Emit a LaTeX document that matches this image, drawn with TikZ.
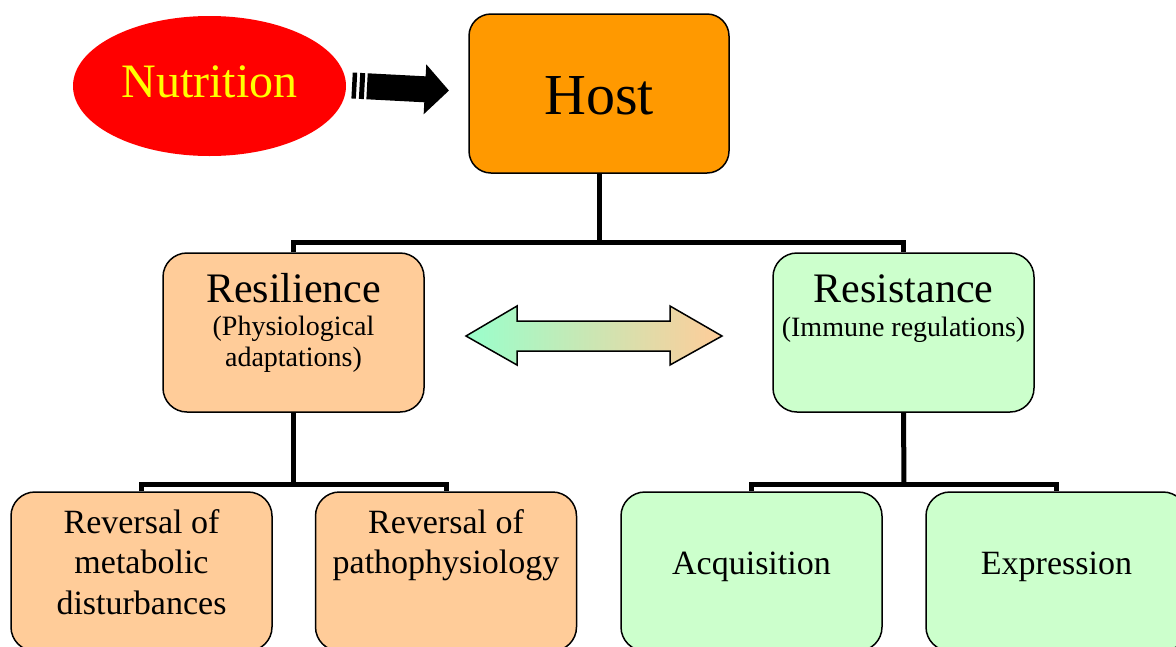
\documentclass[tikz,border=0pt]{standalone}
\usepackage{fontspec}
\setmainfont{Liberation Serif}
\usetikzlibrary{shapes.geometric}
\definecolor{hostorange}{HTML}{FF9900}
\definecolor{peach}{HTML}{FFCC99}
\definecolor{mint}{HTML}{CCFFCC}
\definecolor{aqua}{HTML}{99FFCC}
\definecolor{nutred}{HTML}{FF0000}
\definecolor{nutyellow}{HTML}{FFFF00}
\tikzset{
  box/.style={draw=black, line width=1.5pt, rounded corners=24pt, minimum width=261pt, minimum height=159pt, inner sep=0pt},
  conn/.style={draw=black, line width=5pt},
  lbl/.style={anchor=base, inner sep=0pt, text=black},
}
\begin{document}
\begin{tikzpicture}[x=1pt,y=-1pt]
\useasboundingbox (0,0) rectangle (1176,646);
\clip (0,0) rectangle (1176,646);
\fill[white] (0,0) rectangle (1176,646);

% Nutrition ellipse
\node[ellipse, fill=nutred, minimum width=273pt, minimum height=140pt, inner sep=0pt] (nut) at (209.5,86) {};
\node[lbl, text=nutyellow, font=\fontsize{48}{50}\selectfont] (nuttxt) at (209.5,97) {Nutrition};

% Black block arrow
\begin{scope}[rotate around={-3:(400,88)}]
  \fill[black] (352,75) rectangle (356.5,101);
  \fill[black] (359.5,75) rectangle (364.5,101);
  \fill[black] (367,75) -- (425,75) -- (425,63) -- (449,88) -- (425,113) -- (425,101) -- (367,101) -- cycle;
\end{scope}

% Boxes
\node[box, fill=hostorange, minimum width=260pt, minimum height=159pt, rounded corners=22pt] (host) at (599,93.5) {};
\node[lbl, font=\fontsize{58}{60}\selectfont] (hosttxt) at (599,114) {Host};

\node[box, fill=peach] (resil) at (293.5,332.5) {};
\node[lbl, font=\fontsize{42}{44}\selectfont] (resiltxt) at (293.5,302) {Resilience};
\node[lbl, font=\fontsize{28}{30}\selectfont] (resil2) at (293.5,335) {(Physiological};
\node[lbl, font=\fontsize{28}{30}\selectfont] (resil3) at (293.5,366) {adaptations)};

\node[box, fill=mint] (resist) at (903.5,332.5) {};
\node[lbl, font=\fontsize{42}{44}\selectfont] (resisttxt) at (903.5,302) {Resistance};
\node[lbl, font=\fontsize{28}{30}\selectfont] (resist2) at (903.5,336) {(Immune regulations)};

\node[box, fill=peach] (b1) at (141.5,571.5) {};
\node[lbl, font=\fontsize{34}{36}\selectfont] (b1a) at (141.5,533) {Reversal of};
\node[lbl, font=\fontsize{34}{36}\selectfont] (b1b) at (141.5,573) {metabolic};
\node[lbl, font=\fontsize{34}{36}\selectfont] (b1c) at (141.5,614) {disturbances};

\node[box, fill=peach] (b2) at (446,571.5) {};
\node[lbl, font=\fontsize{34}{36}\selectfont] (b2a) at (446,533) {Reversal of};
\node[lbl, font=\fontsize{34}{36}\selectfont] (b2b) at (446,573) {pathophysiology};

\node[box, fill=mint] (b3) at (751.5,571.5) {};
\node[lbl, font=\fontsize{34}{36}\selectfont] (b3a) at (751.5,574) {Acquisition};

\node[box, fill=mint] (b4) at (1056.5,571.5) {};
\node[lbl, font=\fontsize{34}{36}\selectfont] (b4a) at (1056.5,574) {Expression};

% Connectors
\coordinate (j1) at (599,242);
\coordinate (j2) at (293.5,484);
\coordinate (j3) at (904,484);
\draw[conn] (host.south) -- (j1);
\draw[conn] (resil.north) |- (j1) -| (resist.north);
\draw[conn] (resil.south) -- (j2);
\draw[conn] (b1.north) |- (j2) -| (b2.north);
\draw[conn] (resist.south) -- (j3);
\draw[conn] (b3.north) |- (j3) -| (b4.north);

% Double arrow with gradient
\shadedraw[left color=aqua, right color=peach, draw=black, line width=1.5pt, line join=miter]
  (466,336) -- (517,306) -- (517,321) -- (670,321) -- (670,306) -- (722,336)
  -- (670,365) -- (670,351) -- (517,351) -- (517,365) -- cycle;
\end{tikzpicture}
\end{document}
